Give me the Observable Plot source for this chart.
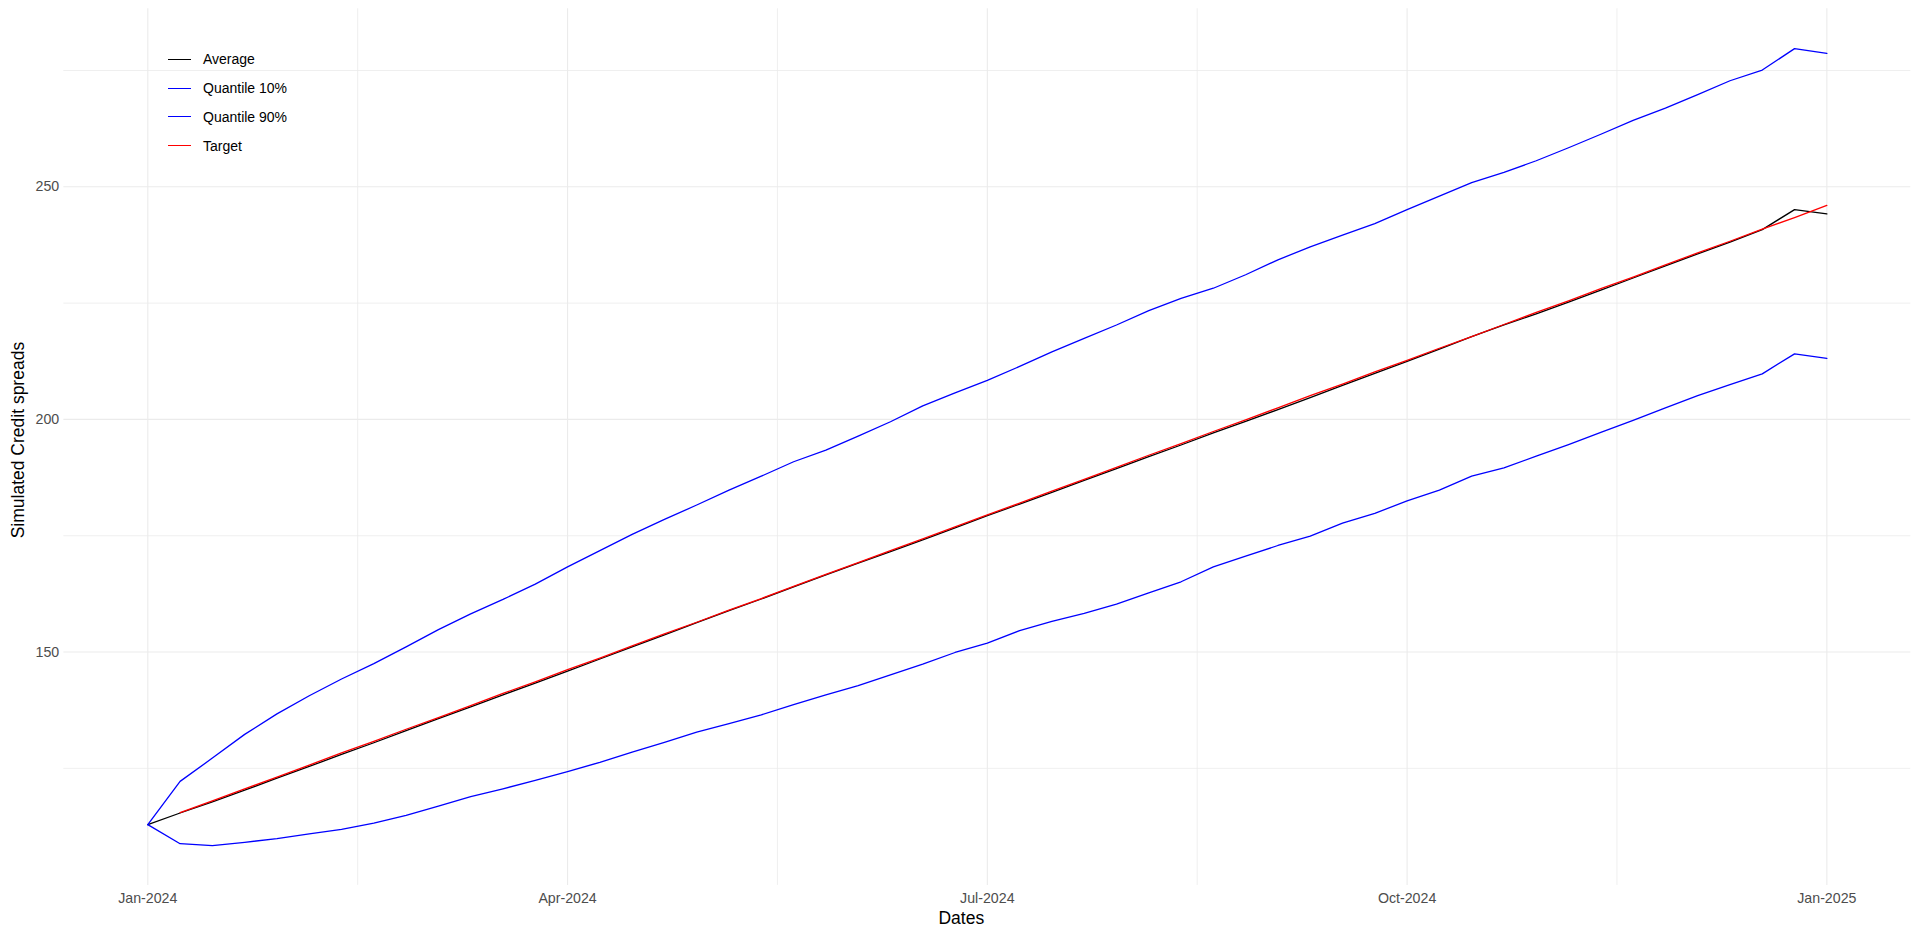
<!DOCTYPE html>
<html>
<head>
<meta charset="utf-8">
<script src="https://cdn.jsdelivr.net/npm/d3@7"></script>
<script src="https://cdn.jsdelivr.net/npm/@observablehq/plot@0.6"></script>
<style>
html, body { margin: 0; padding: 0; background: #ffffff; }
#wrap { position: relative; width: 1920px; height: 941px; font-family: "Liberation Sans", Arial, sans-serif; }
#legend { position: absolute; left: 168px; top: 45px; }
.row { display: flex; align-items: center; height: 28.8px; font-size: 14px; color: #000; }
.key { width: 23px; height: 0; border-top: 1.3px solid; margin-right: 12px; }
</style>
</head>
<body>
<div id="wrap"><div id="legend"></div></div>
<script>
// ---- data (weekly simulation steps, 52 steps over one year) ----
const step = d3.range(53);
const average = [112.9,115.4,117.8,120.3,122.9,125.4,128.0,130.5,133.1,135.7,
  138.2,140.8,143.3,145.9,148.5,151.1,153.7,156.3,158.9,161.4,
  164.0,166.6,169.1,171.6,174.1,176.7,179.3,181.8,184.3,186.9,
  189.4,192.0,194.5,197.1,199.6,202.1,204.7,207.3,209.9,212.5,
  215.1,217.8,220.3,222.7,225.2,227.8,230.4,233.0,235.6,238.1,
  240.8,245.1,244.2];
const quantile10 = [112.9,108.8,108.4,109.1,109.9,110.9,111.9,113.2,114.9,116.9,
  118.9,120.6,122.4,124.3,126.3,128.5,130.6,132.8,134.6,136.5,
  138.7,140.8,142.8,145.1,147.4,149.9,151.9,154.6,156.6,158.3,
  160.3,162.7,165.1,168.3,170.6,172.9,174.9,177.7,179.8,182.5,
  184.8,187.8,189.6,192.1,194.6,197.2,199.8,202.5,205.1,207.5,
  209.8,214.1,213.1];
const quantile90 = [112.9,122.2,127.2,132.3,136.7,140.6,144.2,147.5,151.1,154.8,
  158.2,161.3,164.6,168.3,171.8,175.3,178.5,181.6,184.8,187.8,
  190.9,193.4,196.4,199.5,202.9,205.7,208.4,211.4,214.5,217.4,
  220.3,223.4,226.0,228.2,231.1,234.3,237.1,239.6,242.1,245.1,
  248.0,250.9,253.1,255.6,258.4,261.3,264.3,266.9,269.8,272.8,
  275.1,279.7,278.7];
const target = [null,115.5,118.0,120.6,123.1,125.7,128.3,130.8,133.4,135.9,
  138.5,141.1,143.6,146.2,148.7,151.3,153.9,156.4,159.0,161.5,
  164.1,166.7,169.2,171.8,174.3,176.9,179.5,182.0,184.6,187.1,
  189.7,192.3,194.8,197.4,199.9,202.5,205.1,207.6,210.2,212.7,
  215.3,217.8,220.4,223.0,225.5,228.1,230.6,233.2,235.8,238.3,
  240.9,243.4,246.0];

const seriesNames = ["Average", "Quantile 10%", "Quantile 90%", "Target"];
const seriesColors = ["#000000", "#0000ff", "#0000ff", "#ff0000"];

const xTickSteps = [0, 13, 26, 39, 52];
const xTickLabels = ["Jan-2024", "Apr-2024", "Jul-2024", "Oct-2024", "Jan-2025"];
const xMinorSteps = [6.5, 19.5, 32.5, 45.5];
const yTicks = [150, 200, 250];
const yMinor = [125, 175, 225, 275];
const xTitle = "Dates";
const yTitle = "Simulated Credit spreads";

// ---- build long table ----
const lists = [average, quantile10, quantile90, target];
const rows = [];
lists.forEach((arr, s) => arr.forEach((v, i) => rows.push({step: step[i], value: v, series: seriesNames[s]})));

// ggplot-like 5% expansion
const allVals = rows.map(d => d.value).filter(v => v != null);
const [yLo, yHi] = d3.extent(allVals);
const yPad = 0.05 * (yHi - yLo);
const [xLo, xHi] = d3.extent(step);
const xPad = 0.05 * (xHi - xLo);

const chart = Plot.plot({
  width: 1920,
  height: 941,
  marginLeft: 63.35,
  marginRight: 9.7,
  marginTop: 8.3,
  marginBottom: 56.1,
  style: {fontFamily: "'Liberation Sans', Arial, sans-serif", background: "#ffffff", overflow: "visible"},
  x: {domain: [xLo - xPad, xHi + xPad]},
  y: {domain: [yLo - yPad, yHi + yPad]},
  color: {domain: seriesNames, range: seriesColors},
  marks: [
    Plot.ruleY(yMinor, {stroke: "#ebebeb", strokeWidth: 0.8}),
    Plot.ruleX(xMinorSteps, {stroke: "#ebebeb", strokeWidth: 0.8}),
    Plot.ruleY(yTicks, {stroke: "#ebebeb", strokeWidth: 1.1}),
    Plot.ruleX(xTickSteps, {stroke: "#ebebeb", strokeWidth: 1.1}),
    Plot.axisX({ticks: xTickSteps, tickFormat: d => xTickLabels[xTickSteps.indexOf(d)], tickSize: 0, tickPadding: 8, fontSize: 14.2, color: "#4d4d4d", label: null}),
    Plot.axisY({ticks: yTicks, tickSize: 0, tickPadding: 4.6, fontSize: 14.2, color: "#4d4d4d", label: null}),
    Plot.line(rows, {x: "step", y: "value", z: "series", stroke: "series", strokeWidth: 1.3}),
    Plot.text([xTitle], {text: d => d, frameAnchor: "bottom", textAnchor: "middle", lineAnchor: "middle", dx: -26, dy: 33, fontSize: 17.5, fill: "#000000"}),
    Plot.text([yTitle], {text: d => d, frameAnchor: "left", textAnchor: "middle", lineAnchor: "middle", rotate: -90, dx: -45, dy: -7, fontSize: 17.5, fill: "#000000"})
  ]
});

const wrap = document.getElementById("wrap");
wrap.insertBefore(chart, wrap.firstChild);

// legend inside the panel (top-left), as in the reference
const legend = document.getElementById("legend");
seriesNames.forEach((name, i) => {
  const row = document.createElement("div");
  row.className = "row";
  const key = document.createElement("span");
  key.className = "key";
  key.style.borderTopColor = seriesColors[i];
  const label = document.createElement("span");
  label.textContent = name;
  row.appendChild(key);
  row.appendChild(label);
  legend.appendChild(row);
});
</script>
</body>
</html>
